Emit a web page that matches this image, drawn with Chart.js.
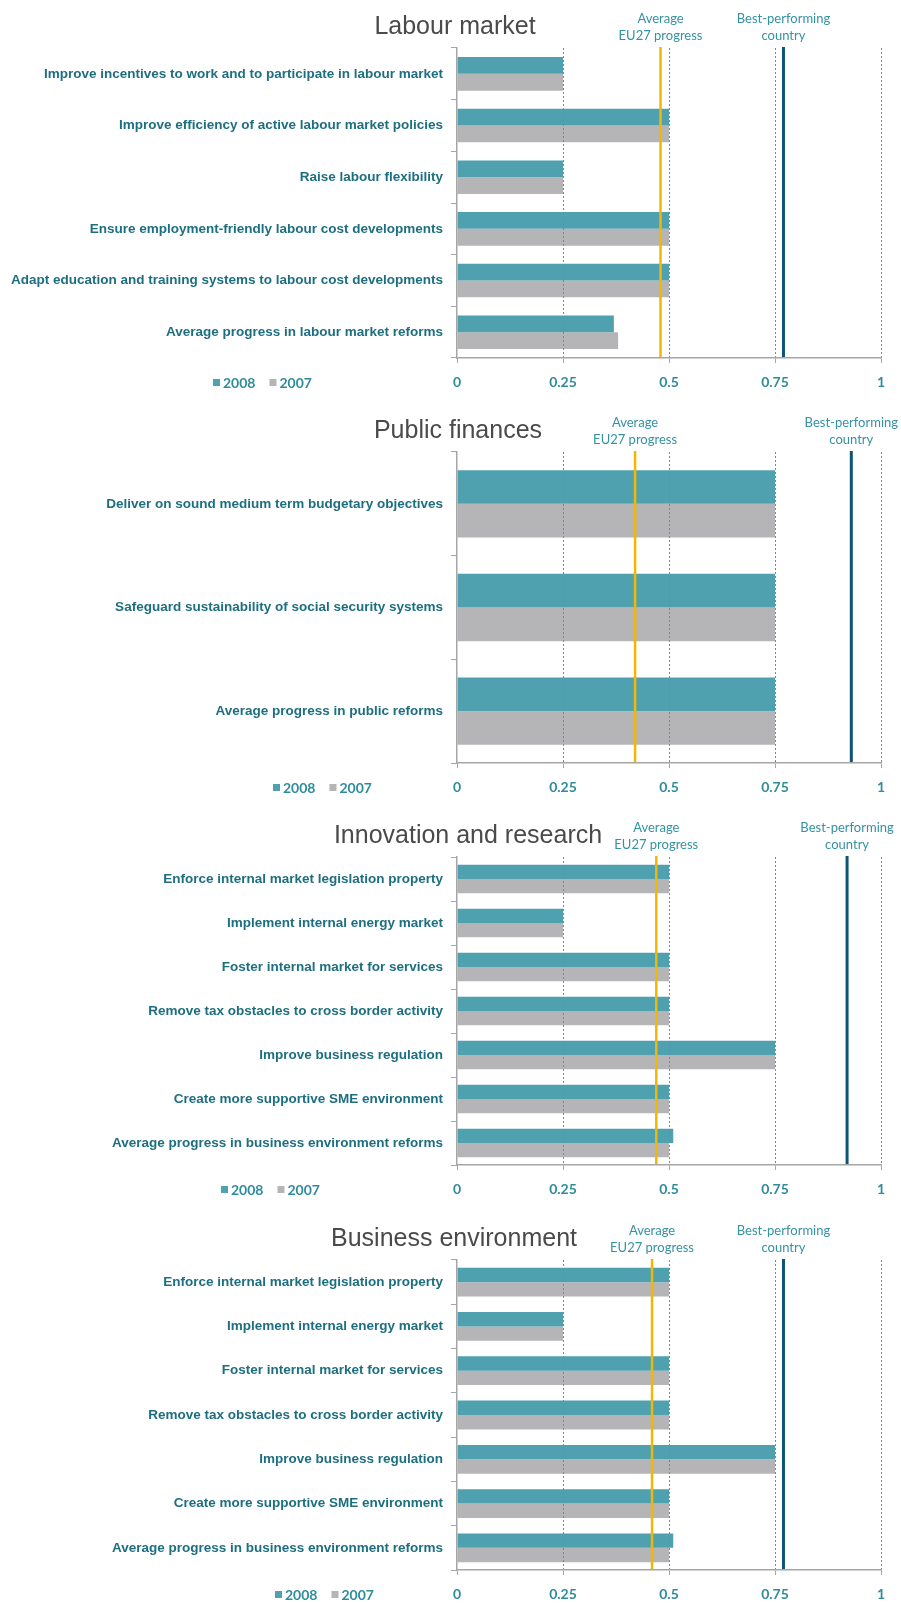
<!DOCTYPE html>
<html><head><meta charset="utf-8">
<script src="https://cdn.jsdelivr.net/npm/chart.js@4.4.1/dist/chart.umd.min.js"></script>
<style>
html,body{margin:0;padding:0;background:#fff;width:901px;height:1603px;overflow:hidden;}
.panel{position:absolute;left:0;width:901px;}
canvas{display:block;}
</style></head><body>
<div class="panel" style="top:0px"><canvas id="c1" width="901" height="403"></canvas></div>
<div class="panel" style="top:404px"><canvas id="c2" width="901" height="404"></canvas></div>
<div class="panel" style="top:809px"><canvas id="c3" width="901" height="401"></canvas></div>
<div class="panel" style="top:1212px"><canvas id="c4" width="901" height="403"></canvas></div>
<script>
// ---------------- DATA ----------------
const seriesNames = ['2008', '2007'];
const titles = ['Labour market', 'Public finances', 'Innovation and research', 'Business environment'];
const refLabels = [['Average', 'EU27 progress'], ['Best-performing', 'country']];
const xTickValues = [0, 0.25, 0.5, 0.75, 1];
const xTickLabels = ['0', '0.25', '0.5', '0.75', '1'];

const labourCategories = [
  'Improve incentives to work and to participate in labour market',
  'Improve efficiency of active labour market policies',
  'Raise labour flexibility',
  'Ensure employment-friendly labour cost developments',
  'Adapt education and training systems to labour cost developments',
  'Average progress in labour market reforms'
];
const labour2008 = [0.25, 0.5, 0.25, 0.5, 0.5, 0.37];
const labour2007 = [0.25, 0.5, 0.25, 0.5, 0.5, 0.38];
const labourRefs = [0.48, 0.77];   // EU27 average, best-performing country

const publicCategories = [
  'Deliver on sound medium term budgetary objectives',
  'Safeguard sustainability of social security systems',
  'Average progress in public reforms'
];
const public2008 = [0.75, 0.75, 0.75];
const public2007 = [0.75, 0.75, 0.75];
const publicRefs = [0.42, 0.93];

const innovationCategories = [
  'Enforce internal market legislation property',
  'Implement internal energy market',
  'Foster internal market for services',
  'Remove tax obstacles to cross border activity',
  'Improve business regulation',
  'Create more supportive SME environment',
  'Average progress in business environment reforms'
];
const innovation2008 = [0.5, 0.25, 0.5, 0.5, 0.75, 0.5, 0.51];
const innovation2007 = [0.5, 0.25, 0.5, 0.5, 0.75, 0.5, 0.5];
const innovationRefs = [0.47, 0.92];

const businessCategories = [
  'Enforce internal market legislation property',
  'Implement internal energy market',
  'Foster internal market for services',
  'Remove tax obstacles to cross border activity',
  'Improve business regulation',
  'Create more supportive SME environment',
  'Average progress in business environment reforms'
];
const business2008 = [0.5, 0.25, 0.5, 0.5, 0.75, 0.5, 0.51];
const business2007 = [0.5, 0.25, 0.5, 0.5, 0.75, 0.5, 0.5];
const businessRefs = [0.46, 0.77];

// ---------------- STYLE ----------------
const TEAL = '#4fa1b0';
const GRAY = '#b5b5b8';
const LABEL_COLOR = '#1d6f80';
const TICK_COLOR = '#2f8c9c';
const REF_COLORS = ['#f2b705', '#0e5475'];
const REF_WIDTHS = [2.5, 3];
const AXIS_COLOR = '#a6a6a6';

const panelDecor = {
  id: 'panelDecor',
  afterDatasetsDraw(chart, args, o) {
    const {ctx, chartArea: {top, bottom}, scales: {x}} = chart;
    o.refs.forEach((v, i) => {
      const px = x.getPixelForValue(v);
      ctx.save();
      ctx.strokeStyle = REF_COLORS[i];
      ctx.lineWidth = REF_WIDTHS[i];
      ctx.beginPath();
      ctx.moveTo(px, top - 1);
      ctx.lineTo(px, bottom);
      ctx.stroke();
      ctx.restore();
    });
  },
  afterDraw(chart, args, o) {
    const {ctx, chartArea: {top, bottom}, scales: {x}} = chart;
    ctx.save();
    ctx.textBaseline = 'middle';
    ctx.textAlign = 'center';
    ctx.font = '25px "Liberation Sans", Arial, sans-serif';
    ctx.fillStyle = '#4a4a4a';
    ctx.fillText(o.title, o.titleX, top - 21);
    ctx.font = '13px Lato, "Open Sans", sans-serif';
    ctx.fillStyle = '#3592a2';
    o.refs.forEach((v, i) => {
      const px = x.getPixelForValue(v);
      refLabels[i].forEach((line, j) => ctx.fillText(line, px, top - 29 + j * 17));
    });
    // legend
    let lx = o.legendX;
    const ly = bottom + 25;
    ctx.textAlign = 'left';
    ctx.font = 'bold 14px Lato, "Open Sans", sans-serif';
    chart.data.datasets.forEach(ds => {
      ctx.fillStyle = ds.backgroundColor;
      ctx.fillRect(lx, ly - 4, 7, 7);
      lx += 10;
      ctx.fillStyle = TICK_COLOR;
      ctx.fillText(ds.label, lx, ly);
      lx += ctx.measureText(ds.label).width + 14;
    });
    ctx.restore();
  }
};

function makeChart(id, cats, d08, d07, refs, title, titleX, legendX) {
  return new Chart(document.getElementById(id), {
    type: 'bar',
    data: {
      labels: cats,
      datasets: [
        {label: seriesNames[0], data: d08, backgroundColor: TEAL, categoryPercentage: 0.65, barPercentage: 1},
        {label: seriesNames[1], data: d07, backgroundColor: GRAY, categoryPercentage: 0.65, barPercentage: 1}
      ]
    },
    options: {
      indexAxis: 'y',
      responsive: false,
      animation: false,
      devicePixelRatio: 1,
      layout: {padding: {top: 48, right: 20, left: 0, bottom: 0}},
      plugins: {
        legend: {display: false},
        tooltip: {enabled: false},
        panelDecor: {refs, title, titleX, legendX}
      },
      scales: {
        x: {
          min: 0, max: 1,
          afterBuildTicks: s => { s.ticks = xTickValues.map(v => ({value: v})); },
          afterFit: s => { s.height = 45; },
          ticks: {
            callback: (v, i) => xTickLabels[i],
            color: TICK_COLOR,
            font: {family: 'Lato, "Open Sans", sans-serif', size: 14, weight: 'bold'},
            padding: 11, maxRotation: 0, autoSkip: false
          },
          grid: {
            z: 1,
            color: c => (c.tick && c.tick.value === 0) ? 'rgba(0,0,0,0)' : '#858585',
            lineWidth: 1, tickLength: 5, tickColor: AXIS_COLOR, drawTicks: true
          },
          border: {display: true, color: AXIS_COLOR, width: 1.5, dash: [2, 2], z: 1}
        },
        y: {
          afterFit: s => { s.width = 457; },
          ticks: {
            color: LABEL_COLOR,
            font: {family: '"Liberation Sans", Arial, sans-serif', size: 13.5, weight: 'bold'},
            padding: 8, autoSkip: false
          },
          grid: {drawOnChartArea: false, drawTicks: true, tickLength: 6, offset: true, color: AXIS_COLOR},
          border: {display: true, color: AXIS_COLOR, width: 1.5, z: 1}
        }
      }
    },
    plugins: [panelDecor]
  });
}

makeChart('c1', labourCategories, labour2008, labour2007, labourRefs, titles[0], 455, 213);
makeChart('c2', publicCategories, public2008, public2007, publicRefs, titles[1], 458, 273);
makeChart('c3', innovationCategories, innovation2008, innovation2007, innovationRefs, titles[2], 468, 221);
makeChart('c4', businessCategories, business2008, business2007, businessRefs, titles[3], 454, 275);
</script>
</body></html>
